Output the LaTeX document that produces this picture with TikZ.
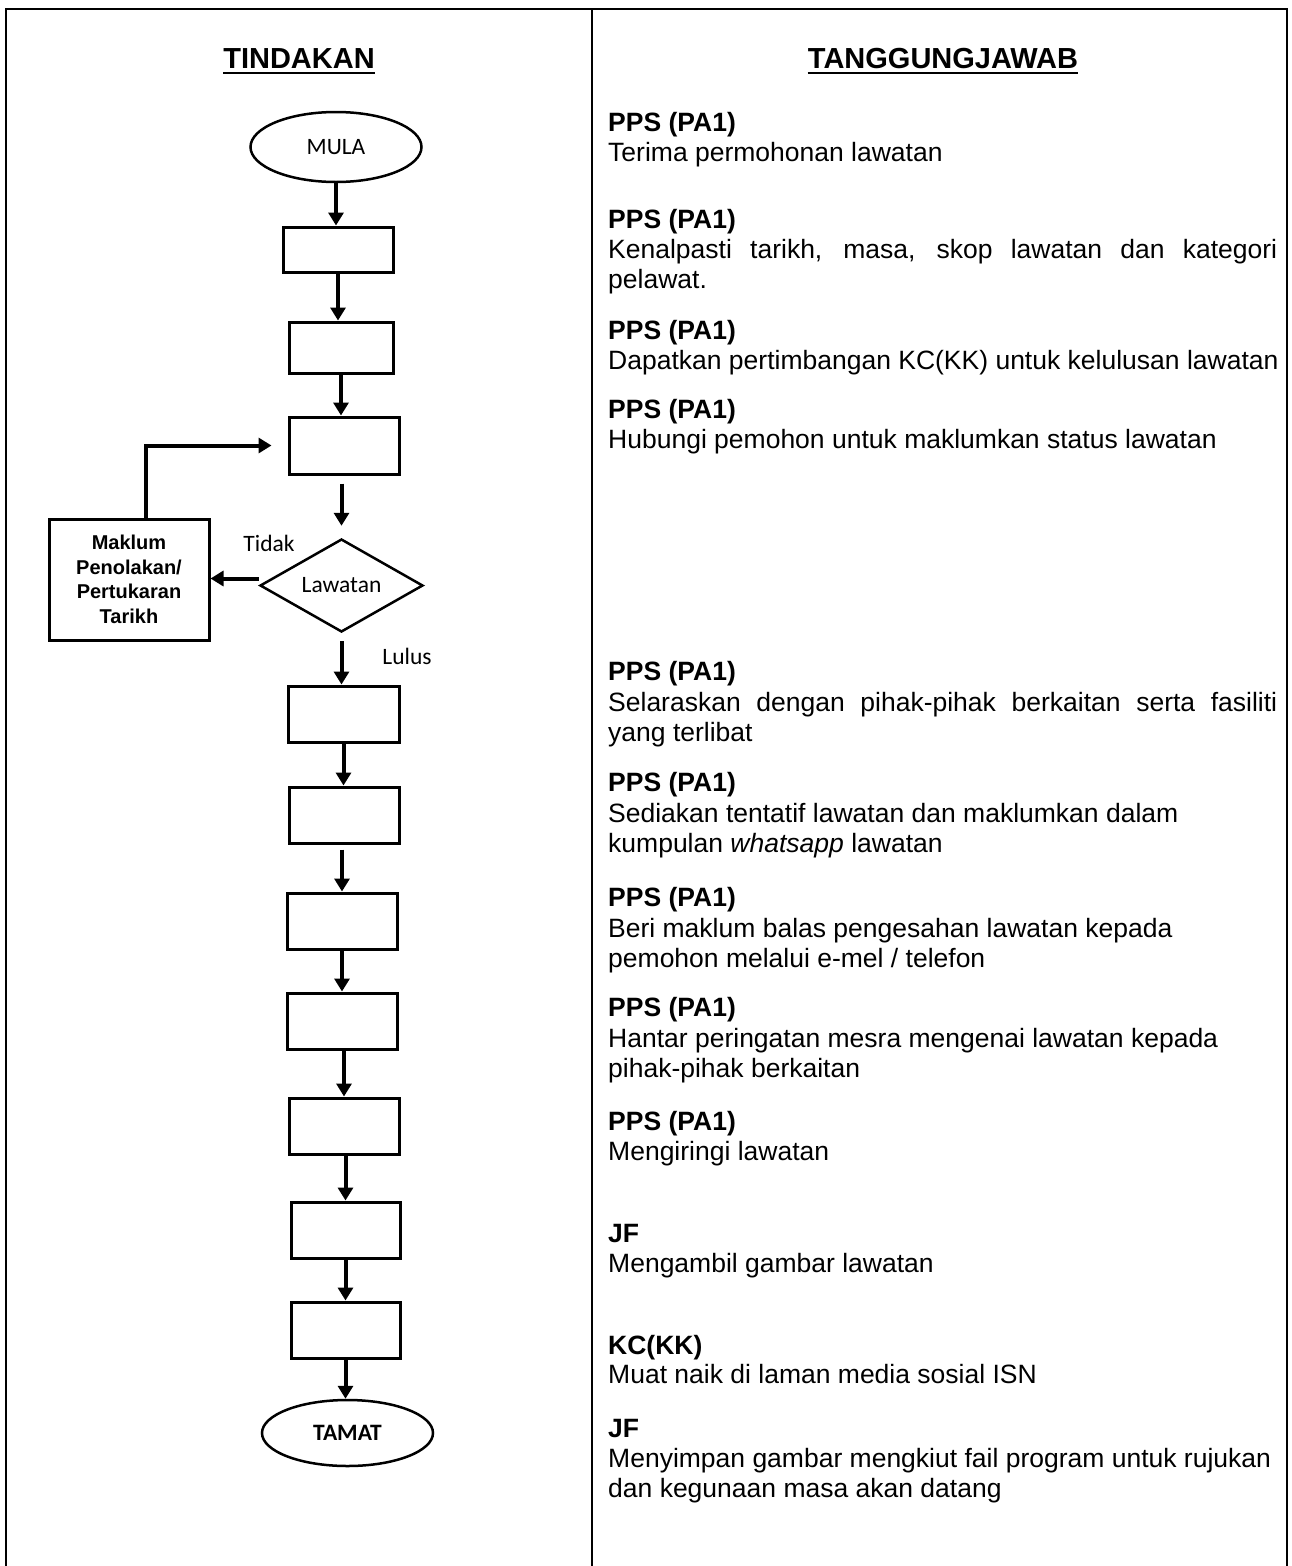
\documentclass[tikz,border=0pt]{standalone}
\usepackage{fontspec}
\setmainfont{Liberation Sans}
\newfontfamily\calibri{Carlito}
\usetikzlibrary{shapes.geometric,arrows.meta}
\begin{document}
\begin{tikzpicture}[x=1pt,y=-1pt,
  frame/.style={line width=2pt},
  stepbox/.style={draw,line width=3pt,rectangle,inner sep=0pt},
  term/.style={draw,line width=2.5pt,ellipse,inner sep=0pt,minimum width=171pt,font=\calibri\fontsize{23.5}{28}\selectfont},
  arr/.style={line width=4pt,-{Triangle[length=13pt,width=15pt]}},
  head/.style={anchor=base,inner sep=0pt,font=\bfseries\fontsize{29}{34}\selectfont},
  who/.style={anchor=base west,inner sep=0pt,font=\bfseries\fontsize{26.5}{30}\selectfont},
  body/.style={anchor=base west,inner sep=0pt,font=\fontsize{26.5}{30}\selectfont},
  lbl/.style={inner sep=0pt,font=\calibri\fontsize{23.5}{28}\selectfont}]
\useasboundingbox (0,0) rectangle (1292,1566);
% frame
\draw[frame] (6,1566) -- (6,9) -- (1287,9) -- (1287,1566);
\draw[frame] (592,9) -- (592,1566);
% headings
\node[head] (h1) at (299,68) {TINDAKAN};
\node[head] (h2) at (943,68) {TANGGUNGJAWAB};
\draw[line width=2.5pt] ([yshift=-5pt]h1.base west) -- ([yshift=-5pt]h1.base east);
\draw[line width=2.5pt] ([yshift=-5pt]h2.base west) -- ([yshift=-5pt]h2.base east);
% flow nodes
\node[term,minimum height=70pt] (mula) at (336,147) {MULA};
\node[stepbox,minimum width=110pt,minimum height=45pt] (b1) at (338,249.5) {};
\node[stepbox,minimum width=104pt,minimum height=51pt] (b2) at (341,347.5) {};
\node[stepbox,minimum width=110pt,minimum height=57pt] (b3) at (344,445.5) {};
\node[draw,line width=2.5pt,diamond,aspect=1.75,inner sep=0pt,minimum width=163pt,minimum height=93pt,font=\calibri\fontsize{23.5}{28}\selectfont] (d) at (341.5,585.5) {Lawatan};
\node[stepbox,minimum width=160pt,minimum height=121pt,align=center,font=\bfseries\fontsize{20}{24.5}\selectfont] (mk) at (129,579.5) {Maklum\\Penolakan/\\Pertukaran\\Tarikh};
\node[stepbox,minimum width=111pt,minimum height=56pt] (b4) at (343.5,714) {};
\node[stepbox,minimum width=110pt,minimum height=56pt] (b5) at (344,815) {};
\node[stepbox,minimum width=110pt,minimum height=56pt] (b6) at (342,921) {};
\node[stepbox,minimum width=110pt,minimum height=56pt] (b7) at (342,1021) {};
\node[stepbox,minimum width=110pt,minimum height=56pt] (b8) at (344,1126) {};
\node[stepbox,minimum width=109pt,minimum height=56pt] (b9) at (345.5,1230) {};
\node[stepbox,minimum width=109pt,minimum height=56pt] (b10) at (345.5,1330) {};
\node[term,minimum height=66pt,font=\calibri\bfseries\fontsize{23.5}{28}\selectfont] (tamat) at (347.5,1433) {TAMAT};
% labels
\node[lbl] (tidak) at (269,543) {Tidak};
\node[lbl] (lulus) at (407,656) {Lulus};
% connectors
\draw[arr] (mula.south) -- (mula.south |- b1.north);
\draw[arr] (b1.south) -- (b1.south |- b2.north);
\draw[arr] (b2.south) -- (b2.south |- b3.north);
\draw[arr,shorten <=8pt,shorten >=12pt] (d.north |- b3.south) -- (d.north);
\draw[arr] ([yshift=7pt]d.west) -- ([yshift=7pt]d.west -| mk.east);
\draw[arr] ([xshift=17pt]mk.north) |- ([xshift=-16pt]b3.west);
\draw[arr,shorten <=8pt] (d.south) -- (d.south |- b4.north);
\draw[arr] (b4.south) -- (b4.south |- b5.north);
\draw[arr,shorten <=5pt] (b6.north |- b5.south) -- (b6.north);
\draw[arr] (b6.south) -- (b6.south |- b7.north);
\draw[arr] (b8.north |- b7.south) -- (b8.north);
\draw[arr] (b9.north |- b8.south) -- (b9.north);
\draw[arr] (b9.south) -- (b9.south |- b10.north);
\draw[arr] (b10.south) -- (b10.south |- tamat.north);
% right column
\node[who] (w1) at (608,131) {PPS (PA1)};
\node[body] (t1) at (608,161) {Terima permohonan lawatan};
\node[who] (w2) at (608,228) {PPS (PA1)};
\node[body] (t2a) at (608,258) {\makebox[669pt][s]{Kenalpasti tarikh, masa, skop lawatan dan kategori}};
\node[body] (t2b) at (608,288) {pelawat.};
\node[who] (w3) at (608,339) {PPS (PA1)};
\node[body] (t3) at (608,369) {Dapatkan pertimbangan KC(KK) untuk kelulusan lawatan};
\node[who] (w4) at (608,418) {PPS (PA1)};
\node[body] (t4) at (608,448) {Hubungi pemohon untuk maklumkan status lawatan};
\node[who] (w5) at (608,680) {PPS (PA1)};
\node[body] (t5a) at (608,711) {\makebox[669pt][s]{Selaraskan dengan pihak-pihak berkaitan serta fasiliti}};
\node[body] (t5b) at (608,741) {yang terlibat};
\node[who] (w6) at (608,791) {PPS (PA1)};
\node[body] (t6a) at (608,822) {Sediakan tentatif lawatan dan maklumkan dalam};
\node[body] (t6b) at (608,852) {kumpulan \textit{whatsapp} lawatan};
\node[who] (w7) at (608,906) {PPS (PA1)};
\node[body] (t7a) at (608,937) {Beri maklum balas pengesahan lawatan kepada};
\node[body] (t7b) at (608,967) {pemohon melalui e-mel / telefon};
\node[who] (w8) at (608,1016) {PPS (PA1)};
\node[body] (t8a) at (608,1047) {Hantar peringatan mesra mengenai lawatan kepada};
\node[body] (t8b) at (608,1077) {pihak-pihak berkaitan};
\node[who] (w9) at (608,1130) {PPS (PA1)};
\node[body] (t9) at (608,1160) {Mengiringi lawatan};
\node[who] (w10) at (608,1242) {JF};
\node[body] (t10) at (608,1272) {Mengambil gambar lawatan};
\node[who] (w11) at (608,1354) {KC(KK)};
\node[body] (t11) at (608,1383) {Muat naik di laman media sosial ISN};
\node[who] (w12) at (608,1437) {JF};
\node[body] (t12a) at (608,1467) {Menyimpan gambar mengkiut fail program untuk rujukan};
\node[body] (t12b) at (608,1497) {dan kegunaan masa akan datang};
\end{tikzpicture}
\end{document}
